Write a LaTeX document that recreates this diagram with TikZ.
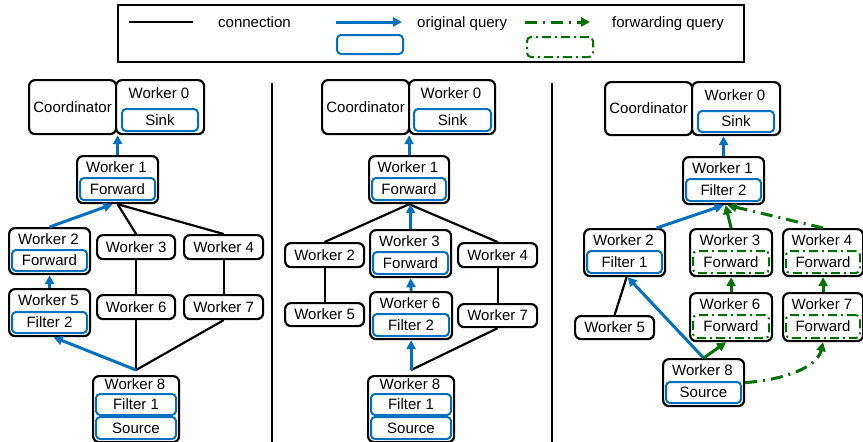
\documentclass[tikz,border=0pt]{standalone}
\usepackage{fontspec}
\setmainfont{Liberation Sans}
\usetikzlibrary{arrows.meta}

\definecolor{qblue}{RGB}{0,112,192}
\definecolor{fgreen}{RGB}{0,112,0}

% place a rectangular node by its north-west and south-east corners
\newcommand\wbox[7]{\node[#1,minimum width={#4-#2},minimum height={#5-#3}] (#6) at (#2,#3) {#7};}

\tikzset{
  txt/.style={font=\fontsize{15}{18}\selectfont, inner sep=0pt, text height=10.7pt, text depth=0pt},
  box/.style={txt, draw=black, line width=2.2pt, rounded corners=6pt, fill=white, anchor=north west},
  qbox/.style={txt, draw=qblue, line width=2pt, rounded corners=4pt, anchor=north west},
  fbox/.style={txt, draw=fgreen, line width=2pt, rounded corners=4pt, anchor=north west,
    dash pattern=on 9pt off 4pt on 2pt off 4pt},
  conn/.style={draw=black, line width=2.2pt},
  qarrow/.style={draw=qblue, line width=3pt, -{Triangle[length=9pt,width=9pt]}},
  farrow/.style={draw=fgreen, line width=3pt, -{Triangle[length=9pt,width=9pt]}},
  fdash/.style={farrow, dash pattern=on 12pt off 6pt on 2pt off 6pt},
}

\begin{document}
\begin{tikzpicture}[x=1pt,y=-1pt]
\useasboundingbox (0,0) rectangle (863,442);

% ---------------- legend ----------------
\node[draw=black, line width=2pt, anchor=north west, minimum width=626, minimum height=57, inner sep=0pt] (legend) at (117,4) {};
\coordinate (l1a) at (129,22); \coordinate (l1b) at (193,22);
\draw[conn] (l1a) -- (l1b);
\node[txt, anchor=west] (lconn) at (218,22) {connection};
\coordinate (l2a) at (336,22); \coordinate (l2b) at (402,22);
\draw[qarrow] (l2a) -- (l2b);
\node[txt, anchor=west] (lorig) at (417,22) {original query};
\coordinate (l3a) at (525,22); \coordinate (l3b) at (590,22);
\draw[fdash] (l3a) -- (l3b);
\node[txt, anchor=west] (lfwd) at (612,22) {forwarding query};
\wbox{qbox}{336}{34}{402}{53}{lq}{}
\wbox{fbox}{526}{36}{592}{56}{lf}{}

% ---------------- separators ----------------
\coordinate (s1a) at (272,83); \coordinate (s1b) at (272,442);
\coordinate (s2a) at (552,83); \coordinate (s2b) at (552,442);
\draw[conn] (s1a) -- (s1b);
\draw[conn] (s2a) -- (s2b);

% ---------------- panel 1 ----------------
\wbox{box}{28}{79}{115}{133}{p1co}{Coordinator}
\wbox{box}{115}{79}{203}{133}{p1w0}{}
\node[txt] (p1w0t) at (159,93) {Worker 0};
\wbox{qbox}{121}{108}{197}{130}{p1sk}{Sink}

\wbox{box}{76}{155}{157}{202}{p1w1}{}
\node[txt] (p1w1t) at (116.5,167) {Worker 1};
\wbox{qbox}{79}{177}{154}{199}{p1w1q}{Forward}

\wbox{box}{8}{227}{89}{273}{p1w2}{}
\node[txt] (p1w2t) at (48.5,239) {Worker 2};
\wbox{qbox}{11}{249}{86}{270}{p1w2q}{Forward}

\wbox{box}{96}{234}{174}{258}{p1w3}{Worker 3}
\wbox{box}{183}{234}{262}{258}{p1w4}{Worker 4}

\wbox{box}{8}{288}{89}{335}{p1w5}{}
\node[txt] (p1w5t) at (48.5,300) {Worker 5};
\wbox{qbox}{11}{311}{86}{332}{p1w5q}{Filter 2}

\wbox{box}{96}{294}{174}{318}{p1w6}{Worker 6}
\wbox{box}{183}{294}{262}{318}{p1w7}{Worker 7}

\wbox{box}{92}{375}{178}{441}{p1w8}{}
\node[txt] (p1w8t) at (135,384) {Worker 8};
\wbox{qbox}{95}{393}{175}{414}{p1w8a}{Filter 1}
\wbox{qbox}{95}{416}{175}{438}{p1w8b}{Source}

\coordinate (p1j) at ([yshift=5pt]p1w8.north);
\draw[qarrow] (p1w1.north) -- (p1w1.north |- p1w0.south);
\draw[qarrow] (p1w2.north) -- ([xshift=-5pt]p1w1.south);
\draw[conn] (p1w1.south) -- (p1w3.north);
\draw[conn] (p1w1.south) -- (p1w4.north);
\draw[conn] (p1w3.south) -- (p1w6.north);
\draw[conn] (p1w4.south) -- (p1w7.north);
\draw[qarrow] (p1w5.north) -- (p1w2.south);
\draw[conn] (p1w6.south) -- (p1j);
\draw[conn] (p1w7.south) -- (p1j);
\draw[qarrow] (p1j) -- ([xshift=4pt]p1w5.south);

% ---------------- panel 2 ----------------
\wbox{box}{321}{79}{408}{133}{p2co}{Coordinator}
\wbox{box}{408}{79}{494}{133}{p2w0}{}
\node[txt] (p2w0t) at (451,93) {Worker 0};
\wbox{qbox}{413}{108}{490}{130}{p2sk}{Sink}

\wbox{box}{368}{155}{448}{202}{p2w1}{}
\node[txt] (p2w1t) at (408,167) {Worker 1};
\wbox{qbox}{371}{177}{445}{199}{p2w1q}{Forward}

\wbox{box}{284}{242}{363}{266}{p2w2}{Worker 2}

\wbox{box}{369}{229}{450}{276}{p2w3}{}
\node[txt] (p2w3t) at (409.5,241) {Worker 3};
\wbox{qbox}{372}{251}{447}{273}{p2w3q}{Forward}

\wbox{box}{457}{242}{536}{266}{p2w4}{Worker 4}

\wbox{box}{284}{302}{363}{325}{p2w5}{Worker 5}

\wbox{box}{369}{291}{451}{338}{p2w6}{}
\node[txt] (p2w6t) at (410,303) {Worker 6};
\wbox{qbox}{372}{313}{448}{335}{p2w6q}{Filter 2}

\wbox{box}{457}{303}{536}{326}{p2w7}{Worker 7}

\wbox{box}{367}{375}{453}{441}{p2w8}{}
\node[txt] (p2w8t) at (410,384) {Worker 8};
\wbox{qbox}{370}{393}{450}{414}{p2w8a}{Filter 1}
\wbox{qbox}{370}{416}{450}{438}{p2w8b}{Source}

\coordinate (p2j) at ([yshift=5pt]p2w8.north);
\draw[qarrow] (p2w1.north) -- (p2w1.north |- p2w0.south);
\draw[conn] (p2w1.south) -- (p2w2.north);
\draw[conn] (p2w1.south) -- (p2w4.north);
\draw[qarrow] (p2w3.north) -- (p2w3.north |- p2w1.south);
\draw[conn] (p2w2.south) -- (p2w5.north);
\draw[conn] (p2w4.south) -- (p2w7.north);
\draw[qarrow] (p2w6.north) -- (p2w3.south);
\draw[conn] (p2j) -- (p2w7.south);
\draw[qarrow] (p2j) -- (p2j |- p2w6.south);

% ---------------- panel 3 ----------------
\wbox{box}{604}{81}{691}{134}{p3co}{Coordinator}
\wbox{box}{691}{81}{779}{134}{p3w0}{}
\node[txt] (p3w0t) at (735,95) {Worker 0};
\wbox{qbox}{697}{110}{773}{131}{p3sk}{Sink}

\wbox{box}{682}{156}{763}{203}{p3w1}{}
\node[txt] (p3w1t) at (722.5,168) {Worker 1};
\wbox{qbox}{685}{178}{760}{200}{p3w1q}{Filter 2}

\wbox{box}{583}{228}{664}{275}{p3w2}{}
\node[txt] (p3w2t) at (623.5,240) {Worker 2};
\wbox{qbox}{586}{250}{661}{272}{p3w2q}{Filter 1}

\wbox{box}{689}{228}{771}{275}{p3w3}{}
\node[txt] (p3w3t) at (730,240) {Worker 3};
\wbox{fbox}{692}{250}{768}{272}{p3w3q}{Forward}

\wbox{box}{782}{228}{862}{275}{p3w4}{}
\node[txt] (p3w4t) at (822,240) {Worker 4};
\wbox{fbox}{785}{250}{859}{272}{p3w4q}{Forward}

\wbox{box}{574}{315}{653}{338}{p3w5}{Worker 5}

\wbox{box}{689}{292}{771}{340}{p3w6}{}
\node[txt] (p3w6t) at (730,304) {Worker 6};
\wbox{fbox}{692}{314}{768}{337}{p3w6q}{Forward}

\wbox{box}{782}{292}{862}{340}{p3w7}{}
\node[txt] (p3w7t) at (822,304) {Worker 7};
\wbox{fbox}{785}{314}{859}{337}{p3w7q}{Forward}

\wbox{box}{662}{358}{743}{405}{p3w8}{}
\node[txt] (p3w8t) at (702.5,370) {Worker 8};
\wbox{qbox}{665}{381}{740}{402}{p3w8q}{Source}

\draw[qarrow] (p3w1.north) -- (p3w1.north |- p3w0.south);
\draw[qarrow] ([xshift=32pt]p3w2.north) -- (p3w1.south);
\draw[fdash] (p3w4.north) -- ([xshift=4pt]p3w1.south);
\draw[farrow] (p3w3.north) -- ([xshift=2pt]p3w1.south);
\draw[farrow] (p3w6.north) -- (p3w3.south);
\draw[farrow] (p3w7.north) -- (p3w4.south);
\draw[conn] (p3w5.north) -- ([xshift=2pt]p3w2.south);
\draw[qarrow] (p3w8.north) -- ([xshift=3pt]p3w2.south);
\draw[farrow] (p3w8.north) -- ([xshift=-5pt]p3w6.south);
\draw[fdash] (p3w8.east) .. controls +(40,-3) and +(-6,25) .. (p3w7.south);
\end{tikzpicture}
\end{document}
